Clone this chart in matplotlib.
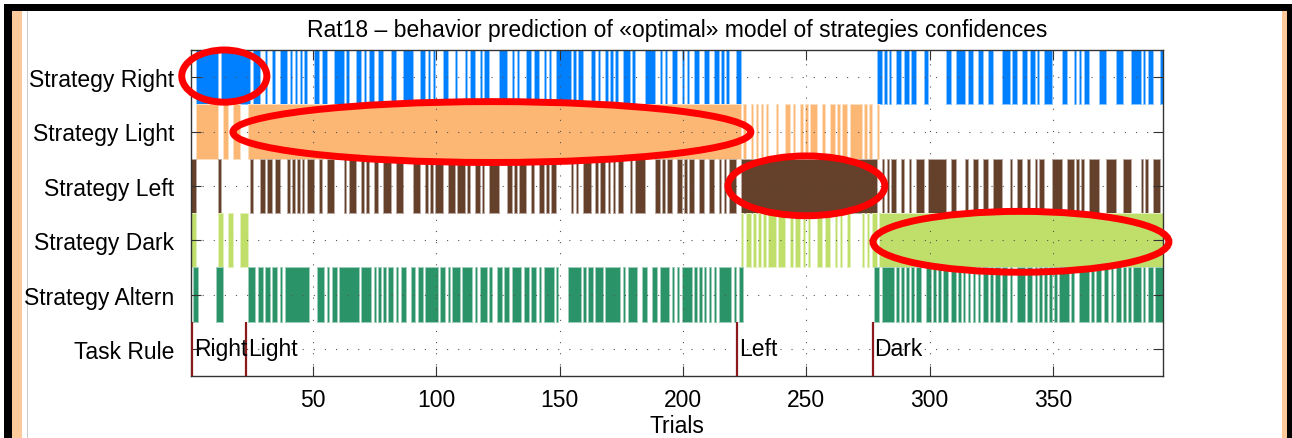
import matplotlib
matplotlib.use('Agg')
import matplotlib.pyplot as plt
from matplotlib.patches import Ellipse, Rectangle
import numpy as np

plt.rcParams['font.family'] = ['Liberation Sans', 'DejaVu Sans']

n_trials = 394
row_labels = ['Task Rule', 'Strategy Altern', 'Strategy Dark',
              'Strategy Left', 'Strategy Light', 'Strategy Right']

# trials where the rat went right (all other trials: left)
right_runs = [(3, 11), (13, 24), (26, 28), (31, 31), (34, 34), (37, 39), (41, 41),
              (43, 43), (45, 45), (47, 47), (51, 52), (54, 55), (59, 62), (64, 64),
              (68, 69), (71, 71), (73, 74), (77, 78), (82, 83), (87, 90), (94, 95),
              (97, 97), (99, 99), (103, 104), (108, 108), (112, 112), (114, 115),
              (118, 118), (120, 121), (126, 128), (131, 131), (133, 133), (137, 138),
              (140, 141), (144, 144), (146, 146), (149, 154), (156, 156), (158, 159),
              (163, 164), (166, 166), (169, 169), (171, 171), (173, 173), (176, 178),
              (180, 180), (185, 188), (191, 191), (193, 193), (196, 197), (200, 200),
              (202, 202), (205, 206), (209, 210), (213, 214), (216, 216), (218, 218),
              (222, 223), (279, 280), (282, 282), (284, 284), (287, 288), (290, 291),
              (293, 294), (298, 299), (307, 308), (311, 314), (316, 317), (320, 321),
              (324, 325), (330, 332), (334, 335), (338, 339), (341, 342), (344, 344),
              (347, 349), (354, 355), (359, 359), (361, 361), (363, 364), (369, 371),
              (376, 378), (382, 385), (387, 387), (389, 390), (394, 394)]

# trials where the rat went to the lit arm (all other trials: dark arm)
light_runs = [(3, 11), (14, 15), (18, 20), (24, 223), (225, 225), (228, 228),
              (230, 230), (232, 232), (234, 234), (238, 238), (242, 243), (245, 245),
              (248, 248), (250, 250), (252, 254), (257, 257), (260, 261), (263, 263),
              (265, 266), (268, 272), (274, 274), (276, 276), (279, 279)]

# trials consistent with alternation
altern_runs = [(2, 3), (11, 13), (24, 26), (28, 29), (31, 32), (34, 35), (37, 37),
               (39, 48), (52, 54), (56, 56), (58, 59), (61, 68), (70, 73), (75, 75),
               (77, 77), (79, 79), (81, 82), (84, 84), (86, 87), (90, 91), (93, 94),
               (96, 100), (102, 103), (105, 105), (107, 109), (111, 114), (116, 116),
               (118, 120), (122, 122), (125, 126), (128, 129), (131, 134), (136, 137),
               (139, 140), (142, 142), (144, 147), (149, 149), (154, 158), (160, 160),
               (162, 163), (165, 167), (169, 174), (176, 176), (178, 181), (184, 185),
               (188, 189), (191, 194), (196, 196), (198, 198), (200, 203), (205, 205),
               (207, 207), (209, 209), (211, 211), (213, 213), (215, 219), (221, 221),
               (223, 224), (278, 279), (281, 285), (287, 287), (289, 289), (291, 291),
               (293, 293), (295, 296), (299, 300), (302, 302), (304, 304), (306, 307),
               (309, 310), (312, 312), (314, 314), (316, 316), (318, 318), (320, 320),
               (322, 323), (325, 325), (327, 328), (330, 331), (333, 333), (336, 338),
               (340, 341), (343, 343), (345, 345), (347, 347), (349, 349), (351, 351),
               (353, 356), (358, 358), (361, 364), (366, 366), (368, 369), (371, 372),
               (374, 374), (376, 377), (379, 379), (381, 381), (383, 385), (387, 387),
               (389, 390), (392, 394)]

rule_names = ['Right', 'Light', 'Left', 'Dark']
rule_starts = [1, 23, 222, 277]

# highlighted regions: (center trial, row, width in trials, height in rows)
highlights = [(14, 5.02, 34.5, 0.96), (122.5, 3.99, 210, 1.12),
              (250, 3.0, 63.6, 1.10), (337, 1.97, 120, 1.12)]

col_right = '#0080ff'
col_light = '#fdb775'
col_left = '#65402b'
col_dark = '#c0df6a'
col_altern = '#2a9468'


def to_mask(runs):
    m = np.zeros(n_trials + 2, dtype=bool)
    for a, b in runs:
        m[a:b + 1] = True
    return m[1:n_trials + 1]


def to_segments(mask):
    padded = np.concatenate([[0], mask.astype(int), [0]])
    d = np.diff(padded)
    starts = np.where(d == 1)[0] + 1
    ends = np.where(d == -1)[0]
    return [(s - 0.5, e - s + 1) for s, e in zip(starts, ends)]


def tint(c, f=0.55):
    rgb = np.array(matplotlib.colors.to_rgb(c))
    return tuple(rgb + (1 - rgb) * f)


right = to_mask(right_runs)
light = to_mask(light_runs)
altern = to_mask(altern_runs)

strat_rows = [(5, right, col_right), (4, light, col_light), (3, ~right, col_left),
              (2, ~light, col_dark), (1, altern, col_altern)]

W, H = 1292, 439
fig = plt.figure(figsize=(W / 100, H / 100), dpi=100)
ax = fig.add_axes([191 / W, 1 - 377 / H, 972 / W, 326 / H])

for y, mask, c in strat_rows:
    ax.broken_barh(to_segments(mask), (y - 0.5, 1), facecolors=c,
                   edgecolors=tint(c), linewidth=0.7, zorder=1)

ax.vlines(rule_starts, -0.5, 0.5, colors='#8b1a1a', linewidth=1.6, zorder=3)
for name, x in zip(rule_names, rule_starts):
    ax.text(x + 0.6, 0, name, ha='left', va='center', fontsize=16.5, zorder=4)

for cx, cy, w, h in highlights:
    ax.add_patch(Ellipse((cx, cy), w, h, fill=False, edgecolor='#ff0000',
                         linewidth=5, zorder=5, clip_on=False))

ax.set_xlim(0.5, 394.6)
ax.set_ylim(-0.5, 5.5)
ax.set_yticks(range(6))
ax.set_yticklabels(row_labels)
ax.set_xticks([50, 100, 150, 200, 250, 300, 350])
ax.set_axisbelow(False)
ax.grid(True, linestyle=(0, (1, 9)), color='#555555', linewidth=0.8)
ax.tick_params(direction='in', length=7, width=0.8, top=True, right=True,
               labelsize=16.5, color='#333333')
ax.tick_params(axis='y', pad=12)
ax.tick_params(axis='x', pad=9)
for s in ax.spines.values():
    s.set_color('#333333')
    s.set_linewidth(1)
ax.set_xlabel('Trials', fontsize=16.5, labelpad=2)
ax.set_title('Rat18 \u2013 behavior prediction of \u00aboptimal\u00bb model of strategies confidences',
             fontsize=16.5, pad=10)


def px_rect(x, y, w, h, c):
    fig.add_artist(Rectangle((x / W, 1 - (y + h) / H), w / W, h / H,
                             transform=fig.transFigure, facecolor=c,
                             edgecolor='none', zorder=0))


# screenshot frame
px_rect(4, 5, W - 4, 7, 'black')
px_rect(4, 5, 8, H - 5, 'black')
px_rect(1287, 5, 5, H - 5, 'black')
px_rect(12, 12, 10, H - 12, '#fcc99a')
px_rect(1282, 12, 5, H - 12, '#fcc99a')
px_rect(27, 12, 1, H - 12, '#cccccc')

fig.savefig('out.png', dpi=100)
